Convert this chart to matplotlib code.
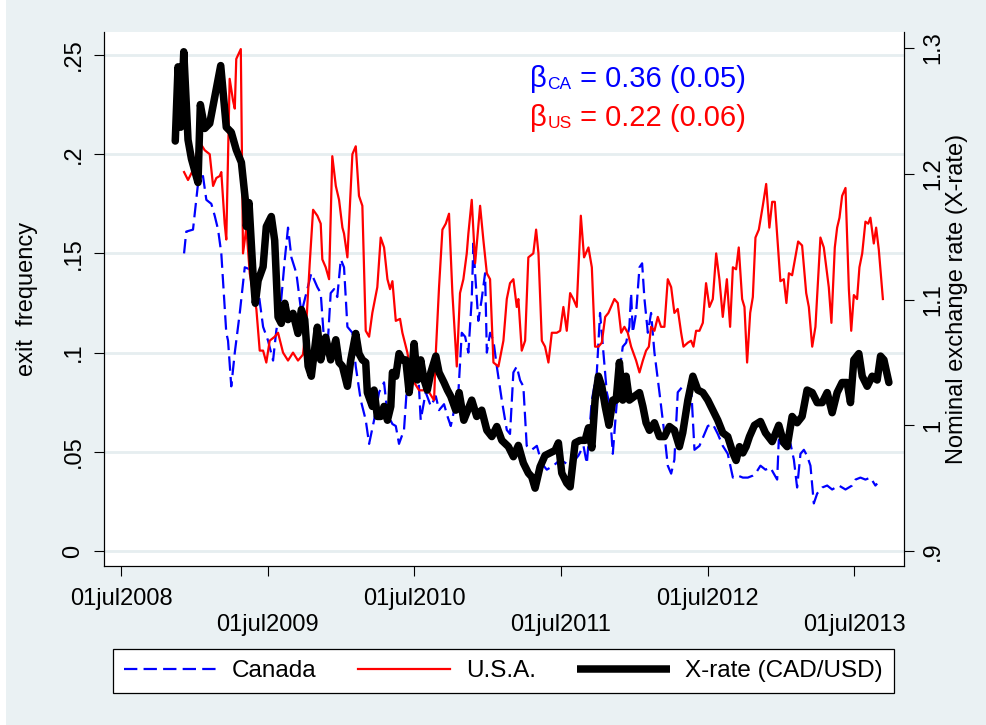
import matplotlib
matplotlib.use("Agg")
import matplotlib.pyplot as plt
from matplotlib.lines import Line2D
from matplotlib.patches import Rectangle

plt.rcParams['font.family'] = ['Liberation Sans', 'DejaVu Sans']

# ---------------- data (decimal years) ----------------
xrate_t = [
    2008.870, 2008.889, 2008.907, 2008.928, 2008.957, 2008.980, 2009.025, 2009.041, 2009.071, 2009.105,
    2009.139, 2009.180, 2009.218, 2009.252, 2009.286, 2009.321, 2009.348, 2009.355, 2009.373, 2009.400,
    2009.416, 2009.435, 2009.469, 2009.491, 2009.525, 2009.548, 2009.571, 2009.593, 2009.617, 2009.639,
    2009.673, 2009.707, 2009.730, 2009.753, 2009.776, 2009.798, 2009.839, 2009.862, 2009.896, 2009.930,
    2009.965, 2009.987, 2010.010, 2010.044, 2010.067, 2010.101, 2010.123, 2010.146, 2010.169, 2010.180,
    2010.214, 2010.226, 2010.248, 2010.271, 2010.294, 2010.317, 2010.340, 2010.351, 2010.374, 2010.396,
    2010.419, 2010.442, 2010.465, 2010.487, 2010.499, 2010.521, 2010.544, 2010.567, 2010.589, 2010.613,
    2010.647, 2010.669, 2010.703, 2010.726, 2010.749, 2010.783, 2010.806, 2010.838, 2010.892, 2010.926,
    2010.960, 2010.995, 2011.029, 2011.063, 2011.097, 2011.142, 2011.176, 2011.210, 2011.244, 2011.278,
    2011.301, 2011.324, 2011.358, 2011.392, 2011.426, 2011.460, 2011.483, 2011.506, 2011.540, 2011.563,
    2011.597, 2011.631, 2011.665, 2011.688, 2011.711, 2011.733, 2011.756, 2011.779, 2011.802, 2011.828,
    2011.854, 2011.877, 2011.899, 2011.922, 2011.945, 2011.967, 2012.001, 2012.036, 2012.059, 2012.081,
    2012.104, 2012.138, 2012.172, 2012.206, 2012.240, 2012.274, 2012.308, 2012.331, 2012.366, 2012.400,
    2012.434, 2012.468, 2012.502, 2012.536, 2012.570, 2012.604, 2012.638, 2012.673, 2012.695, 2012.718,
    2012.741, 2012.763, 2012.786, 2012.820, 2012.861, 2012.895, 2012.941, 2012.986, 2013.020, 2013.043,
    2013.077, 2013.111, 2013.145, 2013.179, 2013.214, 2013.248, 2013.282, 2013.316, 2013.350, 2013.384,
    2013.418, 2013.452, 2013.475, 2013.498, 2013.532, 2013.555, 2013.589, 2013.623, 2013.657, 2013.680,
    2013.703, 2013.737,
]
xrate_v = [
    1.226, 1.285, 1.237, 1.297, 1.227, 1.212, 1.193, 1.255, 1.236, 1.240,
    1.261, 1.286, 1.237, 1.233, 1.219, 1.209, 1.179, 1.158, 1.177, 1.121,
    1.097, 1.115, 1.126, 1.158, 1.166, 1.147, 1.086, 1.081, 1.097, 1.084,
    1.089, 1.073, 1.092, 1.084, 1.047, 1.039, 1.078, 1.052, 1.070, 1.052,
    1.068, 1.050, 1.047, 1.031, 1.052, 1.073, 1.057, 1.052, 1.050, 1.026,
    1.015, 1.028, 1.007, 1.007, 1.015, 1.004, 1.015, 1.042, 1.039, 1.057,
    1.052, 1.052, 1.026, 1.047, 1.065, 1.036, 1.052, 1.036, 1.028, 1.042,
    1.055, 1.042, 1.034, 1.028, 1.023, 1.012, 1.026, 1.004, 1.020, 1.007,
    1.012, 0.996, 0.991, 0.999, 0.988, 0.983, 0.975, 0.984, 0.970, 0.962,
    0.959, 0.950, 0.967, 0.976, 0.978, 0.980, 0.986, 0.962, 0.954, 0.951,
    0.986, 0.988, 0.988, 0.998, 0.982, 1.020, 1.039, 1.031, 1.015, 1.000,
    1.020, 1.020, 1.050, 1.020, 1.039, 1.020, 1.023, 1.026, 1.015, 1.002,
    0.996, 1.002, 0.991, 0.991, 0.999, 0.996, 0.983, 0.994, 1.020, 1.039,
    1.028, 1.026, 1.020, 1.012, 1.004, 0.994, 0.991, 0.978, 0.972, 0.983,
    0.978, 0.983, 0.991, 1.000, 1.003, 0.994, 0.987, 1.000, 0.986, 0.983,
    1.007, 1.002, 1.007, 1.028, 1.026, 1.018, 1.018, 1.026, 1.010, 1.026,
    1.034, 1.034, 1.018, 1.052, 1.057, 1.039, 1.031, 1.039, 1.036, 1.055,
    1.052, 1.034,
]

canada_t = [
    2008.930, 2008.945, 2008.991, 2009.025, 2009.059, 2009.082, 2009.116, 2009.139, 2009.162, 2009.184,
    2009.218, 2009.230, 2009.252, 2009.276, 2009.310, 2009.344, 2009.378, 2009.412, 2009.435, 2009.469,
    2009.503, 2009.537, 2009.559, 2009.593, 2009.617, 2009.639, 2009.662, 2009.696, 2009.730, 2009.764,
    2009.798, 2009.839, 2009.862, 2009.885, 2009.907, 2009.930, 2009.953, 2009.975, 2009.999, 2010.021,
    2010.044, 2010.078, 2010.101, 2010.135, 2010.169, 2010.192, 2010.226, 2010.260, 2010.294, 2010.317,
    2010.351, 2010.374, 2010.396, 2010.430, 2010.453, 2010.487, 2010.521, 2010.544, 2010.578, 2010.613,
    2010.647, 2010.669, 2010.703, 2010.726, 2010.749, 2010.772, 2010.794, 2010.824, 2010.847, 2010.869,
    2010.892, 2010.903, 2010.915, 2010.937, 2010.960, 2010.983, 2010.995, 2011.017, 2011.040, 2011.063,
    2011.097, 2011.131, 2011.153, 2011.176, 2011.199, 2011.222, 2011.244, 2011.267, 2011.301, 2011.336,
    2011.370, 2011.404, 2011.449, 2011.495, 2011.540, 2011.585, 2011.619, 2011.654, 2011.677, 2011.711,
    2011.745, 2011.767, 2011.790, 2011.813, 2011.831, 2011.854, 2011.877, 2011.899, 2011.922, 2011.945,
    2011.967, 2011.979, 2011.990, 2012.013, 2012.036, 2012.054, 2012.070, 2012.093, 2012.115, 2012.138,
    2012.172, 2012.206, 2012.229, 2012.252, 2012.274, 2012.297, 2012.331, 2012.366, 2012.388, 2012.411,
    2012.445, 2012.479, 2012.502, 2012.536, 2012.570, 2012.604, 2012.638, 2012.673, 2012.707, 2012.741,
    2012.775, 2012.809, 2012.827, 2012.861, 2012.895, 2012.929, 2012.952, 2012.975, 2012.986, 2013.009,
    2013.031, 2013.066, 2013.089, 2013.111, 2013.134, 2013.157, 2013.179, 2013.202, 2013.225, 2013.248,
    2013.282, 2013.316, 2013.350, 2013.396, 2013.441, 2013.486, 2013.509, 2013.543, 2013.577, 2013.611,
    2013.645, 2013.657,
]
canada_v = [
    0.150, 0.161, 0.162, 0.185, 0.189, 0.177, 0.175, 0.169, 0.162, 0.150,
    0.110, 0.106, 0.083, 0.100, 0.120, 0.143, 0.142, 0.138, 0.132, 0.113,
    0.106, 0.096, 0.111, 0.127, 0.147, 0.163, 0.148, 0.140, 0.120, 0.130,
    0.140, 0.133, 0.130, 0.106, 0.101, 0.130, 0.132, 0.128, 0.147, 0.143,
    0.113, 0.110, 0.093, 0.076, 0.066, 0.054, 0.066, 0.080, 0.085, 0.069,
    0.064, 0.063, 0.054, 0.061, 0.086, 0.093, 0.098, 0.066, 0.080, 0.073,
    0.078, 0.071, 0.074, 0.068, 0.063, 0.071, 0.071, 0.110, 0.108, 0.100,
    0.127, 0.155, 0.140, 0.116, 0.127, 0.140, 0.100, 0.110, 0.106, 0.093,
    0.076, 0.061, 0.059, 0.090, 0.093, 0.086, 0.083, 0.053, 0.051, 0.053,
    0.044, 0.041, 0.043, 0.046, 0.044, 0.045, 0.048, 0.053, 0.044, 0.076,
    0.090, 0.120, 0.100, 0.080, 0.074, 0.049, 0.071, 0.090, 0.103, 0.105,
    0.113, 0.130, 0.110, 0.120, 0.143, 0.145, 0.127, 0.110, 0.120, 0.100,
    0.080, 0.059, 0.043, 0.039, 0.046, 0.080, 0.083, 0.083, 0.083, 0.051,
    0.053, 0.059, 0.063, 0.064, 0.059, 0.053, 0.049, 0.037, 0.038, 0.037,
    0.037, 0.038, 0.039, 0.043, 0.041, 0.042, 0.039, 0.036, 0.056, 0.053,
    0.056, 0.054, 0.046, 0.032, 0.049, 0.051, 0.048, 0.043, 0.024, 0.029,
    0.032, 0.033, 0.031, 0.033, 0.031, 0.033, 0.036, 0.037, 0.036, 0.037,
    0.033, 0.034,
]

usa_t = [
    2008.930, 2008.957, 2008.991, 2009.014, 2009.037, 2009.071, 2009.105, 2009.128, 2009.150, 2009.173,
    2009.184, 2009.207, 2009.218, 2009.241, 2009.264, 2009.276, 2009.286, 2009.317, 2009.332, 2009.355,
    2009.378, 2009.400, 2009.423, 2009.446, 2009.469, 2009.491, 2009.514, 2009.548, 2009.571, 2009.605,
    2009.639, 2009.673, 2009.707, 2009.741, 2009.764, 2009.787, 2009.810, 2009.839, 2009.862, 2009.873,
    2009.896, 2009.919, 2009.941, 2009.965, 2009.987, 2010.010, 2010.021, 2010.044, 2010.078, 2010.101,
    2010.123, 2010.146, 2010.169, 2010.192, 2010.214, 2010.248, 2010.271, 2010.294, 2010.317, 2010.335,
    2010.351, 2010.374, 2010.403, 2010.419, 2010.453, 2010.476, 2010.499, 2010.533, 2010.567, 2010.601,
    2010.635, 2010.647, 2010.669, 2010.692, 2010.715, 2010.737, 2010.760, 2010.790, 2010.812, 2010.835,
    2010.858, 2010.869, 2010.892, 2010.915, 2010.949, 2010.971, 2010.995, 2011.017, 2011.040, 2011.074,
    2011.108, 2011.131, 2011.153, 2011.176, 2011.199, 2011.210, 2011.233, 2011.256, 2011.278, 2011.312,
    2011.331, 2011.347, 2011.370, 2011.392, 2011.415, 2011.438, 2011.472, 2011.495, 2011.517, 2011.540,
    2011.563, 2011.585, 2011.608, 2011.636, 2011.658, 2011.688, 2011.711, 2011.733, 2011.756, 2011.779,
    2011.802, 2011.824, 2011.865, 2011.888, 2011.911, 2011.933, 2011.956, 2011.979, 2012.013, 2012.036,
    2012.059, 2012.081, 2012.100, 2012.115, 2012.138, 2012.161, 2012.183, 2012.206, 2012.229, 2012.252,
    2012.274, 2012.297, 2012.320, 2012.336, 2012.366, 2012.388, 2012.404, 2012.422, 2012.445, 2012.468,
    2012.490, 2012.513, 2012.536, 2012.559, 2012.581, 2012.604, 2012.632, 2012.654, 2012.673, 2012.695,
    2012.713, 2012.736, 2012.752, 2012.770, 2012.791, 2012.809, 2012.827, 2012.850, 2012.877, 2012.900,
    2012.922, 2012.941, 2012.959, 2012.997, 2013.020, 2013.038, 2013.055, 2013.077, 2013.118, 2013.145,
    2013.173, 2013.191, 2013.214, 2013.236, 2013.270, 2013.293, 2013.327, 2013.345, 2013.368, 2013.384,
    2013.400, 2013.418, 2013.441, 2013.464, 2013.480, 2013.498, 2013.520, 2013.536, 2013.555, 2013.577,
    2013.596, 2013.611, 2013.634, 2013.650, 2013.668, 2013.696,
]
usa_v = [
    0.191, 0.187, 0.192, 0.200, 0.206, 0.202, 0.200, 0.184, 0.188, 0.189,
    0.191, 0.165, 0.157, 0.238, 0.227, 0.223, 0.248, 0.253, 0.150, 0.163,
    0.140, 0.130, 0.122, 0.101, 0.101, 0.095, 0.106, 0.108, 0.110, 0.100,
    0.096, 0.100, 0.096, 0.099, 0.115, 0.145, 0.172, 0.169, 0.165, 0.147,
    0.143, 0.137, 0.199, 0.184, 0.177, 0.163, 0.160, 0.148, 0.200, 0.204,
    0.179, 0.174, 0.111, 0.108, 0.120, 0.133, 0.158, 0.153, 0.137, 0.132,
    0.136, 0.116, 0.117, 0.110, 0.100, 0.090, 0.085, 0.081, 0.081, 0.080,
    0.076, 0.100, 0.133, 0.162, 0.165, 0.170, 0.130, 0.093, 0.130, 0.137,
    0.150, 0.160, 0.177, 0.145, 0.174, 0.157, 0.140, 0.137, 0.095, 0.093,
    0.106, 0.127, 0.135, 0.137, 0.123, 0.127, 0.101, 0.106, 0.148, 0.150,
    0.162, 0.150, 0.106, 0.103, 0.095, 0.110, 0.110, 0.111, 0.123, 0.111,
    0.130, 0.127, 0.123, 0.169, 0.148, 0.153, 0.143, 0.103, 0.103, 0.105,
    0.118, 0.120, 0.127, 0.125, 0.110, 0.113, 0.110, 0.103, 0.096, 0.090,
    0.096, 0.101, 0.103, 0.113, 0.111, 0.118, 0.113, 0.113, 0.137, 0.133,
    0.120, 0.122, 0.110, 0.103, 0.105, 0.106, 0.103, 0.111, 0.111, 0.115,
    0.135, 0.123, 0.127, 0.150, 0.137, 0.118, 0.137, 0.113, 0.143, 0.142,
    0.153, 0.127, 0.123, 0.095, 0.120, 0.128, 0.158, 0.162, 0.174, 0.185,
    0.163, 0.176, 0.176, 0.136, 0.137, 0.125, 0.140, 0.139, 0.156, 0.154,
    0.130, 0.123, 0.103, 0.113, 0.158, 0.153, 0.133, 0.115, 0.153, 0.163,
    0.168, 0.179, 0.183, 0.132, 0.111, 0.129, 0.127, 0.143, 0.150, 0.166,
    0.165, 0.168, 0.155, 0.163, 0.152, 0.127,
]

left_ticks = [0, 0.05, 0.10, 0.15, 0.20, 0.25]
left_labels = ['0', '.05', '.1', '.15', '.2', '.25']
right_ticks = [0.9, 1.0, 1.1, 1.2, 1.3]
right_labels = ['.9', '1', '1.1', '1.2', '1.3']
x_ticks = [2008.5, 2009.5, 2010.5, 2011.5, 2012.5, 2013.5]
x_labels = ['01jul2008', '01jul2009', '01jul2010', '01jul2011', '01jul2012', '01jul2013']
series_names = ['Canada', 'U.S.A.', 'X-rate (CAD/USD)']
beta_ca = ('CA', '0.36', '0.05')
beta_us = ('US', '0.22', '0.06')

# ---------------- figure ----------------
BG = '#EAF1F3'
GRID = '#E6EEF0'
BLUE = '#0000FF'
RED = '#FF0000'
FS = 17

fig = plt.figure(figsize=(9.86, 7.25), dpi=100, facecolor=BG)
fig.patches.append(Rectangle((0, 0), 6 / 986, 1, transform=fig.transFigure,
                             facecolor='white', edgecolor='none', zorder=-10))
ax = fig.add_axes([104 / 986, 1 - 566 / 725, 800 / 986, 534 / 725])
ax.set_facecolor('white')

l_ca, = ax.plot(canada_t, canada_v, color=BLUE, lw=1.6, dashes=(6.5, 2.8))
l_us, = ax.plot(usa_t, usa_v, color=RED, lw=1.6, solid_joinstyle='round')

ax2 = ax.twinx()
l_xr, = ax2.plot(xrate_t, xrate_v, color='black', lw=5.4,
                 solid_joinstyle='round', solid_capstyle='round')

ax.set_xlim(2008.384, 2013.84)
ax.set_ylim(-0.00756, 0.2616)
ax2.set_ylim(0.8881, 1.3127)

ax.set_yticks(left_ticks)
ax.set_yticklabels(left_labels)
ax2.set_yticks(right_ticks)
ax2.set_yticklabels(right_labels)
ax.set_xticks(x_ticks)
ax.set_xticklabels([lab if i % 2 == 0 else '\n' + lab for i, lab in enumerate(x_labels)])
for lbl in ax.get_xticklabels():
    lbl.set_linespacing(1.2)

ax.grid(axis='y', color=GRID, lw=2.0)
ax.grid(axis='x', visible=False)
ax.set_axisbelow(True)

for a in (ax, ax2):
    a.spines['top'].set_visible(False)
    for s in ('left', 'right', 'bottom'):
        a.spines[s].set_color('black')
        a.spines[s].set_linewidth(0.8)

ax.tick_params(axis='x', length=7, width=0.8, labelsize=FS, pad=9, colors='black')
ax.tick_params(axis='y', length=7, width=0.8, labelsize=FS, pad=7, labelrotation=90)
ax2.tick_params(axis='y', length=7, width=0.8, labelsize=FS, pad=6, labelrotation=90)
for lbl in ax.get_yticklabels() + ax2.get_yticklabels():
    lbl.set_va('center')

ax.set_ylabel('exit  frequency', fontsize=FS)
ax.yaxis.set_label_coords(-0.082, 0.5)
ax2.set_ylabel('Nominal exchange rate (X-rate)', fontsize=FS)
ax2.yaxis.set_label_coords(1.052, 0.5)

# beta annotations
def beta_text(x, y, sub, est, se, color):
    b = ax.text(x, y, '\u03b2', fontsize=21, color=color, va='baseline', ha='left')
    s = ax.annotate(sub, xy=(1, y), xycoords=(b, 'data'), xytext=(0.5, -1.5),
                    textcoords='offset points', fontsize=12.5, color=color,
                    va='baseline', ha='left')
    ax.annotate(f' = {est} ({se})', xy=(1, y), xycoords=(s, 'data'), xytext=(0, 0),
                textcoords='offset points', fontsize=21, color=color,
                va='baseline', ha='left')

beta_text(2011.29, 0.2339, *beta_ca, BLUE)
beta_text(2011.29, 0.2142, *beta_us, RED)

h_ca = Line2D([], [], color=BLUE, lw=1.6, dashes=(6.0, 2.8))
h_us = Line2D([], [], color=RED, lw=1.6)
h_xr = Line2D([], [], color='black', lw=5.4, solid_capstyle='butt')
leg = fig.legend([h_ca, h_us, h_xr], series_names, loc='center',
                 bbox_to_anchor=(113 / 986, 1 - 695 / 725, 781 / 986, 48 / 725),
                 ncol=3, mode='expand', frameon=True, fancybox=False,
                 edgecolor='black', facecolor='white', framealpha=1,
                 fontsize=17.5, handlelength=3.8, handletextpad=0.65,
                 borderpad=0.45, borderaxespad=0)
leg.get_frame().set_linewidth(0.9)

fig.savefig('out.png', dpi=100, facecolor=BG)
